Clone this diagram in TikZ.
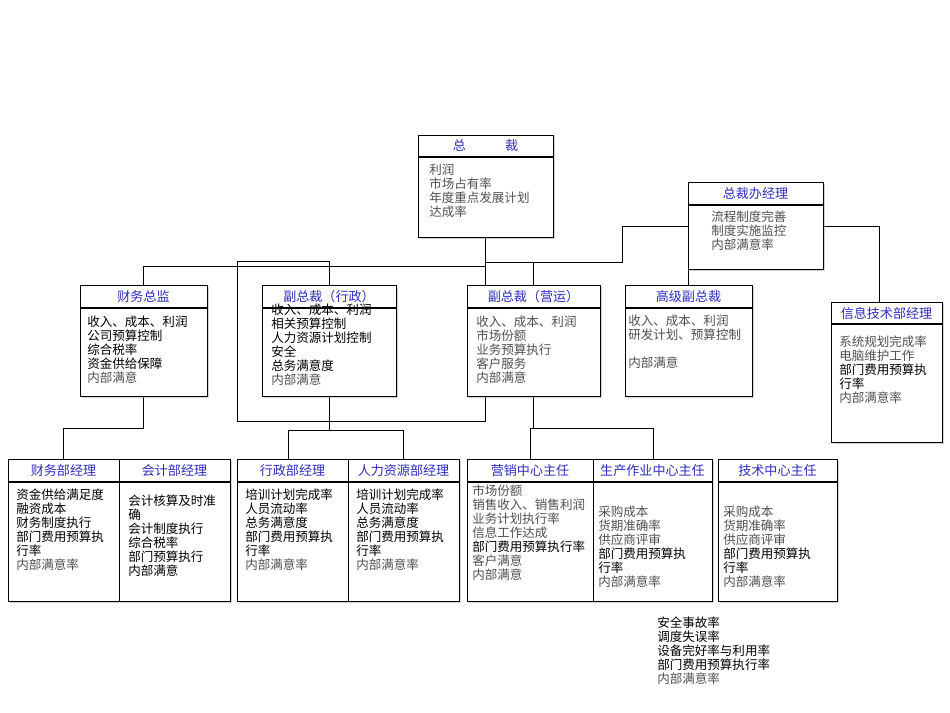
\documentclass[tikz,border=0pt]{standalone}
\usepackage{fontspec}
\setmainfont{Noto Sans CJK SC}
\usetikzlibrary{shadows,positioning}
\definecolor{headblue}{RGB}{45,45,190}
\definecolor{txtgray}{RGB}{80,80,80}
\tikzstyle{box} = [rectangle, draw, thick, fill=white, anchor=north west,
    inner sep=0pt, drop shadow={shadow xshift=1.2pt, shadow yshift=-1.2pt, fill=gray!70}]
\tikzstyle{head} = [text=headblue, font=\fontsize{9.8}{11}\selectfont]
\tikzstyle{body} = [anchor=north west, align=left, inner sep=0pt,
    font=\fontsize{9.4}{10.5}\selectfont]
\tikzstyle{line} = [draw, semithick]
% box: name, x1, y1, x2, y2, header line, title
\newcommand{\orgbox}[7]{%
    \node [box, minimum width={(#4-#2)*0.75pt}, minimum height={(#5-#3)*0.75pt}]
        (#1) at (#2,#3) {};
    \draw [thick] (#2,#6) -- (#4,#6);
    \node [head] (#1-t) at ({(#2+#4)/2},{(#3+#6)/2}) {#7};}
\newcommand{\gr}[1]{{\color{txtgray}#1}}

\begin{document}
\begin{tikzpicture}[x=0.75pt, y=-0.75pt]
        \useasboundingbox (0,0) rectangle (950,713);
        % Draw edges first
        \coordinate (c1) at (485.5,421);
        \coordinate (c2) at (237,261);
        \path [line] (485.5,237) -- (c1) -| (c2) -| (329,285);
        \path [line] (143.5,285) |- (485.5,266);
        \path [line] (485.5,262) -| (533.5,285);
        \path [line] (533.5,262) -| (622,226) -- (688,226);
        \path [line] (688.5,285) -- (688.5,269);
        \path [line] (823,226) -| (879,302);
        \path [line] (143.5,396) |- (63,428) -- (63,459);
        \path [line] (329,396) -- (329,430);
        \path [line] (288,459) |- (403,430) -- (403,459);
        \path [line] (533.5,396) -- (533.5,428);
        \path [line] (530,459) |- (653,428) -- (653,459);
        % Place nodes
        \orgbox{zc}{418}{135}{553}{237}{157}{总\hspace{3em}裁}
        \node [body, text=txtgray] (zc-b) at (429,164)
            {利润\\市场占有率\\年度重点发展计划\\达成率};
        \orgbox{zcb}{688}{182}{823}{269}{205}{总裁办经理}
        \node [body, text=txtgray] (zcb-b) at (711,211)
            {流程制度完善\\制度实施监控\\内部满意率};
        \orgbox{cwzj}{80}{285}{207}{396}{308}{财务总监}
        \node [body] (cwzj-b) at (87,316)
            {收入、成本、利润\\公司预算控制\\综合税率\\资金供给保障\\\gr{内部满意}};
        \orgbox{xz}{262}{285}{396}{396}{308}{副总裁（行政）}
        \node [body] (xz-b) at (271,304)
            {收入、成本、利润\\相关预算控制\\人力资源计划控制\\安全\\总务满意度\\\gr{内部满意}};
        \orgbox{yy}{467}{285}{600}{396}{308}{副总裁（营运）}
        \node [body, text=txtgray] (yy-b) at (476,316)
            {收入、成本、利润\\市场份额\\业务预算执行\\客户服务\\内部满意};
        \orgbox{gj}{625}{285}{752}{396}{308}{高级副总裁}
        \node [body, text=txtgray] (gj-b) at (628,315)
            {收入、成本、利润\\研发计划、预算控制\\[10.5pt]内部满意};
        \orgbox{xx}{831}{302}{942}{442}{324}{信息技术部经理}
        \node [body] (xx-b) at (839,336)
            {\gr{系统规划完成率}\\\gr{电脑维护工作}\\部门费用预算执\\行率\\\gr{内部满意率}};
        % lower row
        \orgbox{cwb}{8}{459}{119}{601}{482}{财务部经理}
        \node [body] (cwb-b) at (16,489)
            {资金供给满足度\\融资成本\\财务制度执行\\部门费用预算执\\行率\\\gr{内部满意率}};
        \orgbox{kj}{119}{459}{230}{601}{482}{会计部经理}
        \node [body] (kj-b) at (128,495)
            {会计核算及时准\\确\\会计制度执行\\综合税率\\部门预算执行\\内部满意};
        \orgbox{xzb}{237}{459}{348}{601}{482}{行政部经理}
        \node [body] (xzb-b) at (245,489)
            {培训计划完成率\\人员流动率\\总务满意度\\部门费用预算执\\行率\\\gr{内部满意率}};
        \orgbox{rl}{348}{459}{459}{601}{482}{人力资源部经理}
        \node [body] (rl-b) at (356,489)
            {培训计划完成率\\人员流动率\\总务满意度\\部门费用预算执\\行率\\\gr{内部满意率}};
        \orgbox{yx}{467}{459}{593}{601}{482}{营销中心主任}
        \node [body] (yx-b) at (472,485)
            {\gr{市场份额}\\\gr{销售收入、销售利润}\\\gr{业务计划执行率}\\\gr{信息工作达成}\\部门费用预算执行率\\\gr{客户满意}\\\gr{内部满意}};
        \orgbox{sc}{593}{459}{712}{601}{482}{生产作业中心主任}
        \node [body] (sc-b) at (598,506)
            {\gr{采购成本}\\\gr{货期准确率}\\\gr{供应商评审}\\部门费用预算执\\行率\\\gr{内部满意率}};
        \orgbox{js}{718}{459}{837}{601}{482}{技术中心主任}
        \node [body] (js-b) at (723,506)
            {\gr{采购成本}\\\gr{货期准确率}\\\gr{供应商评审}\\部门费用预算执\\行率\\\gr{内部满意率}};
        \node [body] (aq) at (657,617)
            {安全事故率\\调度失误率\\设备完好率与利用率\\部门费用预算执行率\\\gr{内部满意率}};
    \end{tikzpicture}
\end{document}
